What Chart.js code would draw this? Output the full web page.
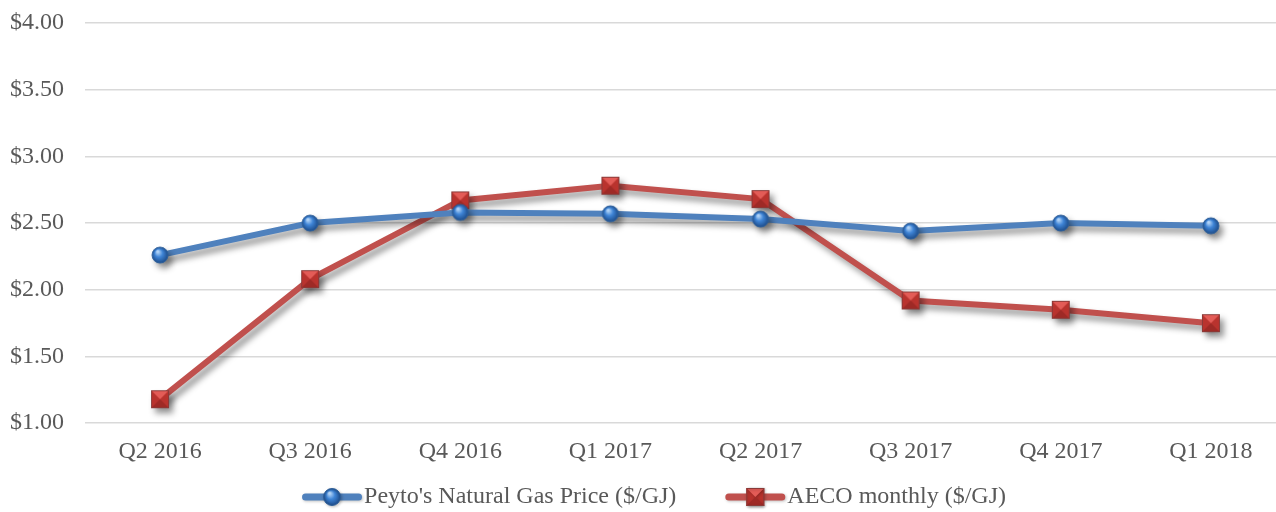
<!DOCTYPE html>
<html>
<head>
<meta charset="utf-8">
<script src="https://cdn.jsdelivr.net/npm/chart.js@4/dist/chart.umd.min.js"></script>
<style>
html,body{margin:0;padding:0;background:#fff;overflow:hidden;width:1276px;height:512px;}
canvas{display:block;}
</style>
</head>
<body>
<canvas id="c" width="1286" height="512"></canvas>
<script>
const categories = ["Q2 2016","Q3 2016","Q4 2016","Q1 2017","Q2 2017","Q3 2017","Q4 2017","Q1 2018"];
const peytoPrice = [2.26, 2.50, 2.58, 2.57, 2.53, 2.44, 2.50, 2.48];
const aecoMonthly = [1.18, 2.08, 2.67, 2.78, 2.68, 1.92, 1.85, 1.75];
const seriesNames = ["Peyto's Natural Gas Price ($/GJ)", "AECO monthly ($/GJ)"];
const yTicks = {min: 1, max: 4, step: 0.5};

const BLUE = '#4F81BD', RED = '#C0504D';
const TEXT = '#595959';
const FONT = '"Liberation Serif", "Times New Roman", serif';

function drawSphere(g, cx, cy, r) {
  const grad = g.createRadialGradient(cx - r*0.3, cy - r*0.45, r*0.1, cx, cy, r);
  grad.addColorStop(0, '#b3d4f7');
  grad.addColorStop(0.45, '#3e84d6');
  grad.addColorStop(1, '#1d4c8a');
  g.beginPath(); g.arc(cx, cy, r, 0, Math.PI*2); g.fillStyle = grad; g.fill();
  g.lineWidth = 1; g.strokeStyle = '#2d5f9a'; g.stroke();
}
function drawCube(g, cx, cy, h) {
  const x0 = cx - h, y0 = cy - h, w = 2*h;
  g.fillStyle = '#b9332e'; g.fillRect(x0, y0, w, w);
  g.fillStyle = '#e35c57';
  g.beginPath(); g.moveTo(x0, y0); g.lineTo(x0+w, y0); g.lineTo(cx, cy); g.closePath(); g.fill();
  g.fillStyle = '#9e2a26';
  g.beginPath(); g.moveTo(x0, y0+w); g.lineTo(x0+w, y0+w); g.lineTo(cx, cy); g.closePath(); g.fill();
  g.lineWidth = 1; g.strokeStyle = '#8a3a38'; g.strokeRect(x0+0.5, y0+0.5, w-1, w-1);
}
function markerImg(kind, size) {
  const s = size + 4;
  const cv = document.createElement('canvas'); cv.width = s; cv.height = s;
  const g = cv.getContext('2d');
  if (kind === 'circle') drawSphere(g, s/2, s/2, size/2); else drawCube(g, s/2, s/2, size/2);
  return cv;
}
const ptBlue = markerImg('circle', 16);
const ptRed = markerImg('square', 18);

const shadowPlugin = {
  id: 'shadow',
  beforeDatasetsDraw(chart) {
    const ctx = chart.ctx; ctx.save();
    ctx.shadowColor = 'rgba(0,0,0,0.42)';
    ctx.shadowBlur = 6; ctx.shadowOffsetX = 4; ctx.shadowOffsetY = 5;
  },
  afterDatasetsDraw(chart) { chart.ctx.restore(); }
};

// legend: swatch (line + marker) followed by label text
const legendPlugin = {
  id: 'swatchLegend',
  afterDraw(chart) {
    const ctx = chart.ctx;
    const swW = 60, gapT = 2, gapItem = 49, cy = 497, centerX = 654;
    ctx.save();
    ctx.font = '24px ' + FONT;
    ctx.textBaseline = 'middle';
    ctx.textAlign = 'left';
    const items = chart.data.datasets.map((ds, i) => ({
      text: ds.label, color: ds.borderColor, kind: i === 0 ? 'circle' : 'square',
      w: ctx.measureText(ds.label).width
    }));
    let total = 0;
    items.forEach((it, i) => { total += swW + gapT + it.w + (i ? gapItem : 0); });
    let x = centerX - total / 2;
    items.forEach((it, i) => {
      if (i) x += gapItem;
      ctx.save();
      ctx.shadowColor = 'rgba(0,0,0,0.25)'; ctx.shadowBlur = 3; ctx.shadowOffsetX = 1; ctx.shadowOffsetY = 1;
      ctx.strokeStyle = it.color; ctx.lineWidth = 7; ctx.lineCap = 'round';
      ctx.beginPath(); ctx.moveTo(x + 3.5, cy); ctx.lineTo(x + swW - 3.5, cy); ctx.stroke();
      if (it.kind === 'circle') drawSphere(ctx, x + swW/2, cy, 8.5); else drawCube(ctx, x + swW/2, cy, 9);
      ctx.restore();
      x += swW + gapT;
      ctx.fillStyle = TEXT;
      ctx.fillText(it.text, x, cy);
      x += it.w;
    });
    ctx.restore();
  }
};

new Chart(document.getElementById('c'), {
  type: 'line',
  data: {
    labels: categories,
    datasets: [
      {label: seriesNames[0], data: peytoPrice, borderColor: BLUE, backgroundColor: BLUE,
       borderWidth: 6, pointStyle: ptBlue, pointRadius: 8, tension: 0, fill: false},
      {label: seriesNames[1], data: aecoMonthly, borderColor: RED, backgroundColor: RED,
       borderWidth: 6, pointStyle: ptRed, pointRadius: 9, tension: 0, fill: false}
    ]
  },
  options: {
    responsive: false,
    animation: false,
    devicePixelRatio: 1,
    layout: {autoPadding: false, padding: {top: 0, right: 0, left: -11, bottom: 32}},
    plugins: {
      tooltip: {enabled: false},
      legend: {display: false}
    },
    scales: {
      x: {
        offset: true,
        grid: {display: false, drawTicks: false},
        border: {display: false},
        ticks: {color: TEXT, padding: 14, maxRotation: 0, autoSkip: false,
          font: {family: FONT, size: 24}}
      },
      y: {
        min: yTicks.min, max: yTicks.max,
        afterFit(scale) { scale.paddingTop = 23; },
        grid: {color: '#d9d9d9', lineWidth: 1.5, drawTicks: false},
        border: {display: false},
        ticks: {stepSize: yTicks.step, color: TEXT, padding: 21,
          font: {family: FONT, size: 24},
          callback: v => '$' + Number(v).toFixed(2)}
      }
    }
  },
  plugins: [shadowPlugin, legendPlugin]
});
</script>
</body>
</html>
